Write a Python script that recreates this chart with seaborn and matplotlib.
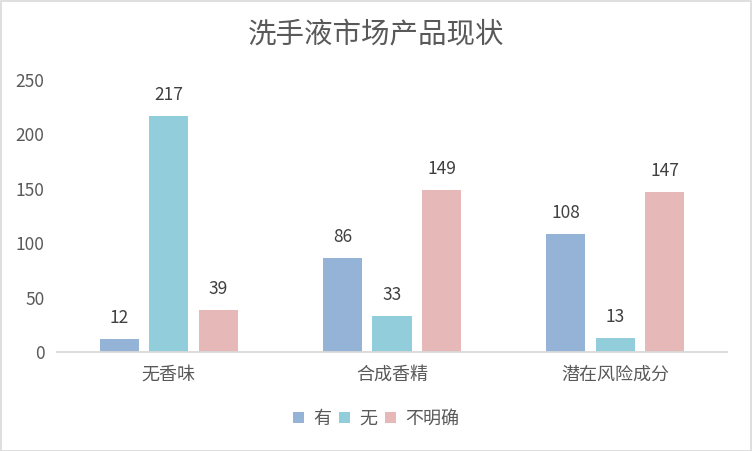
import matplotlib
matplotlib.use("Agg")
import matplotlib.pyplot as plt
from matplotlib.patches import Patch, Rectangle
import seaborn as sns
import pandas as pd

categories = ["无香味", "合成香精", "潜在风险成分"]
series = ["有", "无", "不明确"]
val_you = [12, 86, 108]
val_wu = [217, 33, 13]
val_bu = [39, 149, 147]
colors = ["#95B3D7", "#92CDDC", "#E6B9B8"]
yticks = [0, 50, 100, 150, 200, 250]
title = "洗手液市场产品现状"

rows = []
for s, vals in zip(series, [val_you, val_wu, val_bu]):
    for c, v in zip(categories, vals):
        rows.append({"category": c, "series": s, "value": v})
df = pd.DataFrame(rows)

sns.set_theme(style="white")
plt.rcParams["font.family"] = ["Noto Sans CJK SC", "DejaVu Sans"]

W, H = 752, 451
fig = plt.figure(figsize=(W / 100, H / 100), dpi=100)
ax = fig.add_axes([57 / W, 1 - 352 / H, (727 - 57) / W, (352 - 80) / H])

sns.barplot(data=df, x="category", y="value", hue="series", order=categories,
            hue_order=series, palette=colors, width=0.665, gap=0.212,
            saturation=1, ax=ax, legend=False, errorbar=None, linewidth=0)

ax.set_xlim(-0.5, 2.5)
ax.set_ylim(0, 250)
ax.set_yticks(yticks)
ax.set_yticklabels([str(t) for t in yticks])
ax.set_xlabel("")
ax.set_ylabel("")
ax.tick_params(axis="y", length=0, pad=9, labelsize=12.5, labelcolor="#595959")
ax.tick_params(axis="x", length=0, pad=10, labelsize=13, labelcolor="#595959")
for sp in ["left", "right", "top"]:
    ax.spines[sp].set_visible(False)
ax.spines["bottom"].set_color("#D9D9D9")
ax.spines["bottom"].set_linewidth(1.3)
ax.grid(False)

for cont in ax.containers:
    for bar in cont:
        h = bar.get_height()
        ax.annotate(f"{int(round(h))}", (bar.get_x() + bar.get_width() / 2, h),
                    xytext=(0, 12), textcoords="offset pixels",
                    ha="center", va="bottom", fontsize=12.5, color="#404040")

fig.text(376 / W, 1 - 35 / H, title, ha="center", va="center",
         fontsize=20.5, color="#595959")

handles = [Patch(facecolor=c, edgecolor="none") for c in colors]
fig.legend(handles, series, loc="center", bbox_to_anchor=(376 / W, 1 - 419 / H),
           ncol=3, frameon=False, fontsize=13, handlelength=0.6, handleheight=0.6,
           handletextpad=0.5, columnspacing=0.45, labelcolor="#595959")

fig.patches.append(Rectangle((0.5 / W, 0.5 / H), 1 - 1.5 / W, 1 - 1.5 / H,
                             transform=fig.transFigure, fill=False,
                             edgecolor="#D9D9D9", linewidth=1.2))

fig.savefig("out.png", dpi=100, facecolor="white")
